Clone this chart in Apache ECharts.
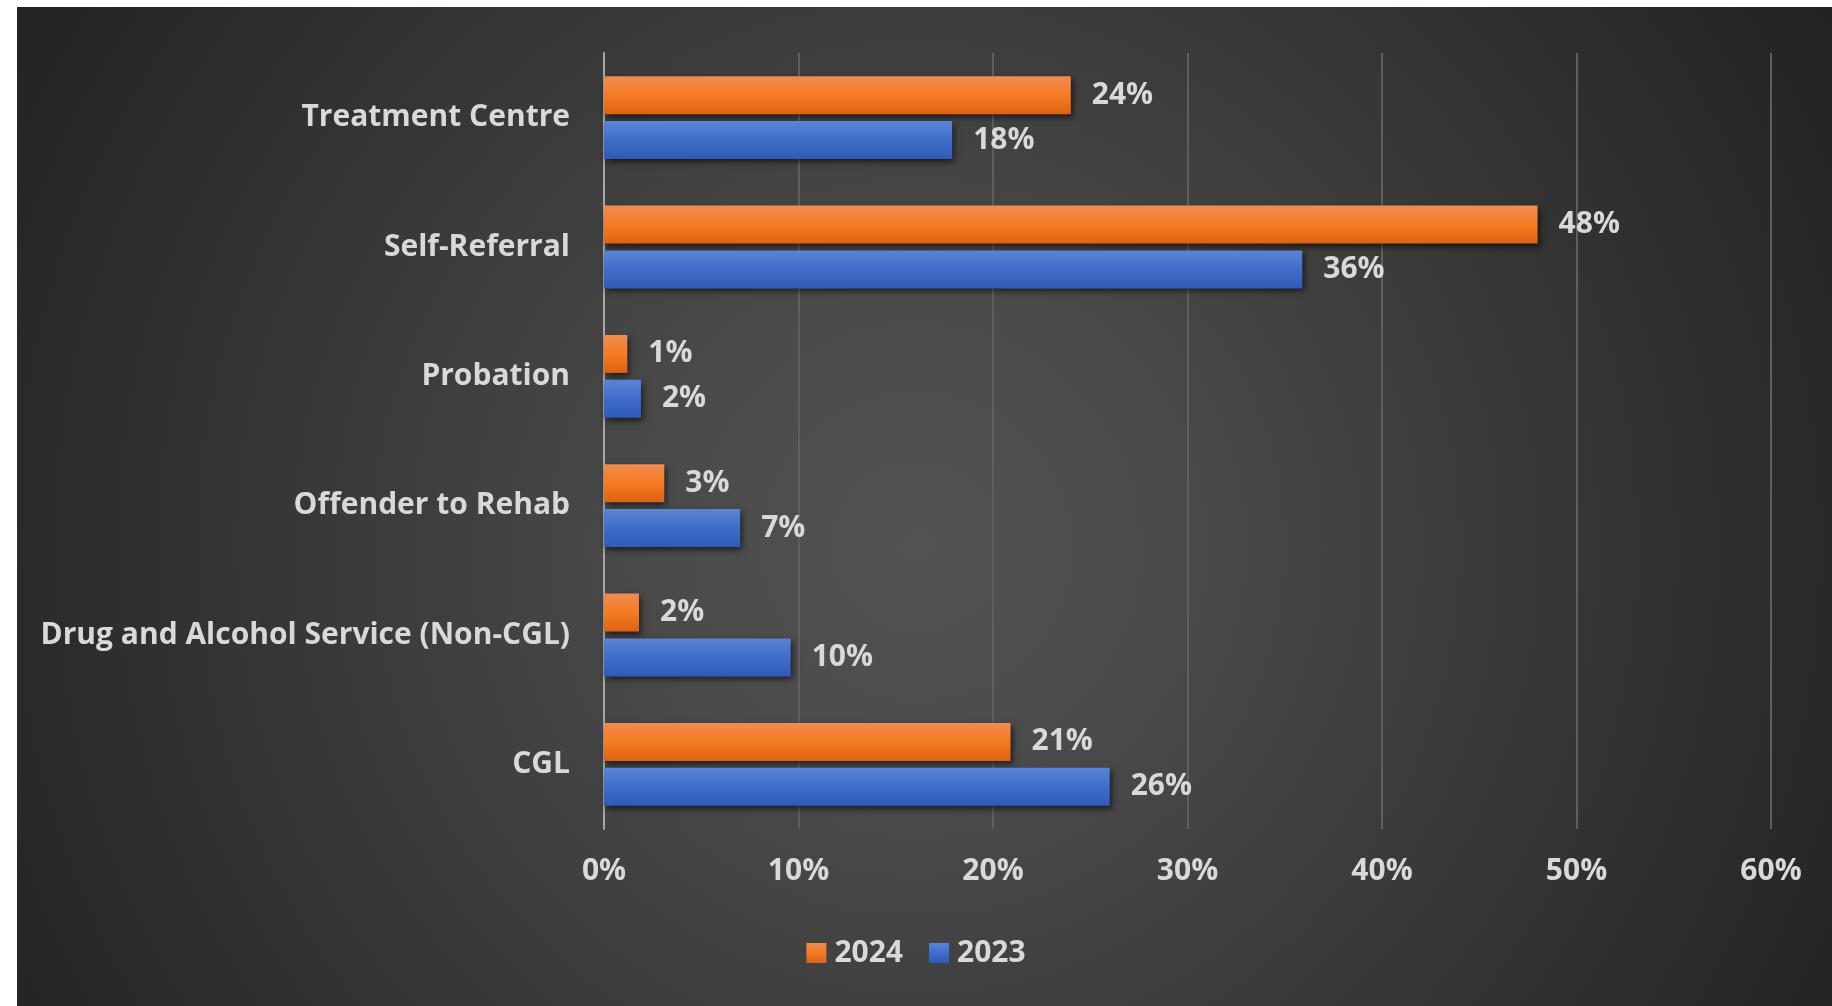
<!DOCTYPE html>
<html>
<head>
<meta charset="utf-8">
<script src="https://cdn.jsdelivr.net/npm/echarts@6/dist/echarts.min.js"></script>
<style>
html,body{margin:0;padding:0;background:#ffffff;width:1832px;height:1006px;overflow:hidden;}
#bg{position:absolute;left:17px;top:7px;width:1815px;height:999px;
background:radial-gradient(circle 1100px at 900px 540px,#525252 0%,#4b4b4b 22%,#3e3e3e 45%,#303030 70%,#202020 100%);}
#chart{position:absolute;left:0;top:0;width:1832px;height:1006px;}
</style>
</head>
<body>
<div id="bg"></div>
<div id="chart"></div>
<script>
const categories = ['Treatment Centre','Self-Referral','Probation','Offender to Rehab','Drug and Alcohol Service (Non-CGL)','CGL'];
const values2024 = [24.0, 48.0, 1.2, 3.1, 1.8, 20.9];
const values2023 = [17.9, 35.9, 1.9, 7.0, 9.6, 26.0];
const seriesNames = ['2024','2023'];
const xTicks = [0,10,20,30,40,50,60];

const FONT = '"Open Sans", "Noto Sans", sans-serif';
const TXT = '#d9d9d9';
const FS = 30;
const FW = 'bold';
function grad(c1,c2,c3){
  return new echarts.graphic.LinearGradient(0,0,0,1,[{offset:0,color:c1},{offset:0.5,color:c2},{offset:1,color:c3}]);
}
const chart = echarts.init(document.getElementById('chart'), null, {renderer:'canvas'});
const labelCfg = {show:true, position:'right', distance:21, color:TXT, fontFamily:FONT, fontWeight:FW, fontSize:FS,
  formatter: p => Math.round(p.value) + '%'};
chart.setOption({
  backgroundColor:'transparent',
  animation:false,
  legend:{data:seriesNames, top:933, left:'center', itemWidth:20, itemHeight:20, itemGap:26,
    icon:'rect', textStyle:{color:TXT, fontFamily:FONT, fontWeight:FW, fontSize:FS, padding:[0,0,0,3]}},
  grid:{left:604, right:61, top:53, height:776, containLabel:false},
  xAxis:{type:'value', min:xTicks[0], max:xTicks[xTicks.length-1], interval:10,
    axisLine:{show:false}, axisTick:{show:false},
    splitLine:{show:true, lineStyle:{color:'#5e5e5e', width:2}},
    axisLabel:{formatter:'{value}%', color:TXT, fontFamily:FONT, fontWeight:FW, fontSize:FS, margin:27}},
  yAxis:{type:'category', data:categories, inverse:true,
    axisLine:{show:true, lineStyle:{color:'#a6a6a6', width:2}}, axisTick:{show:false},
    axisLabel:{color:TXT, fontFamily:FONT, fontWeight:FW, fontSize:FS, margin:34}},
  series:[
    {name:seriesNames[0], type:'bar', data:values2024, barWidth:38, barGap:'18%',
      itemStyle:{color:grad('#f08c52','#f47b22','#dd6216'), shadowBlur:6, shadowColor:'rgba(0,0,0,0.6)', shadowOffsetX:2, shadowOffsetY:3},
      label:labelCfg},
    {name:seriesNames[1], type:'bar', data:values2023, barWidth:38, barGap:'18%',
      itemStyle:{color:grad('#5a85d6','#3f6dc9','#2f5bb6'), shadowBlur:6, shadowColor:'rgba(0,0,0,0.6)', shadowOffsetX:2, shadowOffsetY:3},
      label:labelCfg}
  ]
});
</script>
</body>
</html>
